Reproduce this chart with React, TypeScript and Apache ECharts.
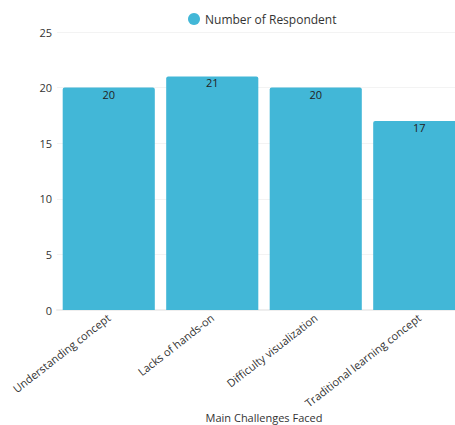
import React, { useEffect, useRef } from "react";
import * as echarts from "echarts";

const categories = ["Understanding concept", "Lacks of hands-on", "Difficulty visualization", "Traditional learning concept"];
const respondents = [20, 21, 20, 17];
const seriesName = "Number of Respondent";
const xAxisName = "Main Challenges Faced";

export default function App() {
  const ref = useRef<HTMLDivElement>(null);
  useEffect(() => {
    if (!ref.current) return;
    const chart = echarts.init(ref.current, null, { renderer: "svg" });
    const font = "Open Sans";
    chart.setOption({
      animation: false,
      textStyle: { fontFamily: font },
      legend: {
        data: [seriesName],
        left: 183,
        top: 8,
        icon: "circle",
        itemWidth: 12,
        itemHeight: 12,
        itemGap: 5,
        textStyle: { fontSize: 12, color: "#333", fontFamily: font },
      },
      grid: { left: 57, right: 9, top: 32, bottom: 115, containLabel: false, outerBoundsMode: "none" },
      xAxis: {
        type: "category",
        data: categories,
        name: xAxisName,
        nameLocation: "middle",
        nameGap: 102,
        nameMoveOverlap: false,
        nameTextStyle: { fontSize: 11, color: "#333", fontFamily: font },
        axisTick: { show: false },
        axisLine: { lineStyle: { color: "#eeeeee", width: 2 } },
        axisLabel: { rotate: 38, fontSize: 11, color: "#333", margin: 6, fontFamily: font, interval: 0 },
      },
      yAxis: {
        type: "value",
        min: 0,
        max: 25,
        interval: 5,
        axisLabel: { fontSize: 11, color: "#333", margin: 5, fontFamily: font },
        splitLine: { lineStyle: { color: "#f3f3f3" } },
      },
      series: [
        {
          name: seriesName,
          type: "bar",
          data: respondents,
          barCategoryGap: "11%",
          itemStyle: { color: "#42b7d7", borderRadius: [2, 2, 0, 0] },
          label: { show: true, position: "insideTop", distance: 1, color: "#222", fontSize: 11, fontFamily: font },
        },
      ],
    });
    return () => chart.dispose();
  }, []);
  return (
    <div style={{ position: "fixed", left: 0, top: 0, width: 455, height: 425, overflow: "hidden", background: "#fff" }}>
      <div ref={ref} style={{ width: 480, height: 425 }} />
    </div>
  );
}
